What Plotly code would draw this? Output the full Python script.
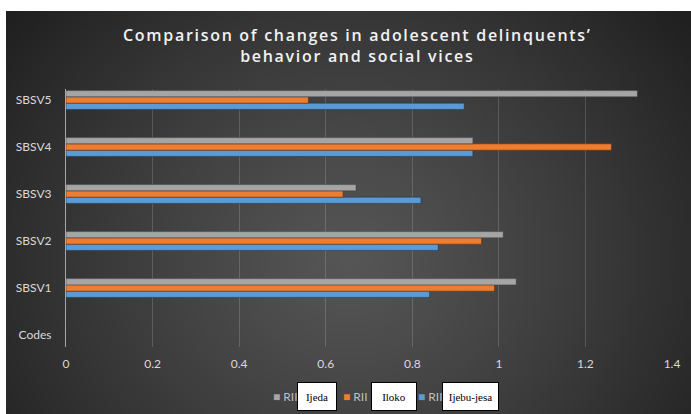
import base64
import struct
import zlib

import numpy as np
import plotly.graph_objects as go

# ---------------- data ----------------
categories = ["Codes", "SBSV1", "SBSV2", "SBSV3", "SBSV4", "SBSV5"]
ijebu_jesa = [None, 0.84, 0.86, 0.82, 0.94, 0.92]
iloko = [None, 0.99, 0.96, 0.64, 1.26, 0.56]
ijeda = [None, 1.04, 1.01, 0.67, 0.94, 1.32]
x_ticks = [0, 0.2, 0.4, 0.6, 0.8, 1, 1.2, 1.4]
legend_labels = ["Ijeda", "Iloko", "Ijebu-jesa"]
series_label = "RII"
title_lines = ["Comparison of changes in adolescent delinquents’", "behavior and social vices"]

# ---------------- geometry helpers ----------------
W, H = 691, 414
L, R, T, B = 66, 19, 89, 67
PW, PH = W - L - R, H - T - B


def px(xp):
    return (xp - L) / PW


def py(yp):
    return (H - B - yp) / PH


# ---------------- background gradient image ----------------
def gradient_png(w, h):
    xs = np.linspace(0, 1, w)[None, :]
    ys = np.linspace(0, 1, h)[:, None]
    d = np.sqrt(((xs - 0.5) / 0.62) ** 2 + ((ys - 0.62) / 0.95) ** 2)
    v = 86 - 52 * np.clip(d, 0, 1.2) ** 1.15
    v = np.clip(v, 32, 90).astype(np.uint8)
    raw = b"".join(b"\x00" + v[i].tobytes() for i in range(h))

    def chunk(tag, data):
        return (struct.pack(">I", len(data)) + tag + data
                + struct.pack(">I", zlib.crc32(tag + data) & 0xFFFFFFFF))

    png = (b"\x89PNG\r\n\x1a\n"
           + chunk(b"IHDR", struct.pack(">IIBBBBB", w, h, 8, 0, 0, 0, 0))
           + chunk(b"IDAT", zlib.compress(raw, 9))
           + chunk(b"IEND", b""))
    return "data:image/png;base64," + base64.b64encode(png).decode()


bg_src = gradient_png(172, 100)

colors = {"gray": "#a5a5a5", "orange": "#ed7d31", "blue": "#5b9bd5"}

fig = go.Figure()
fig.add_trace(go.Bar(y=categories, x=ijebu_jesa, orientation="h", name="Ijebu-jesa",
                     marker=dict(color=colors["blue"], line=dict(color="rgba(20,40,70,0.8)", width=0.6))))
fig.add_trace(go.Bar(y=categories, x=iloko, orientation="h", name="Iloko",
                     marker=dict(color=colors["orange"], line=dict(color="rgba(90,40,10,0.8)", width=0.6))))
fig.add_trace(go.Bar(y=categories, x=ijeda, orientation="h", name="Ijeda",
                     marker=dict(color=colors["gray"], line=dict(color="rgba(60,60,60,0.8)", width=0.6))))

tick_font = dict(family="Lato, Open Sans, sans-serif", size=12, color="#d9d9d9")

fig.update_layout(
    width=W, height=H,
    margin=dict(l=L, r=R, t=T, b=B),
    paper_bgcolor="white",
    plot_bgcolor="rgba(0,0,0,0)",
    barmode="group",
    bargap=0.6,
    bargroupgap=0,
    showlegend=False,
    xaxis=dict(range=[0, 1.4], tickvals=x_ticks, ticktext=[f"{t:g}" for t in x_ticks],
               showgrid=True, gridcolor="rgba(255,255,255,0.16)", gridwidth=1,
               zeroline=False, showline=False, tickfont=tick_font,
               ticklabelstandoff=8, fixedrange=True),
    yaxis=dict(categoryorder="array", categoryarray=categories,
               range=[-0.255, 5.234], showgrid=False, zeroline=False,
               showline=True, linecolor="#a6a6a6", linewidth=1.2,
               tickfont=tick_font, ticklabelstandoff=11, fixedrange=True),
    images=[dict(source=bg_src, xref="paper", yref="paper",
                 x=px(6), y=py(11), sizex=(W - 6) / PW, sizey=(H - 11) / PH,
                 xanchor="left", yanchor="top", sizing="stretch", layer="below")],
)

annotations = []
# title
title_html = "<br>".join(f"<span style='letter-spacing:1.7px'>{t}</span>" for t in title_lines)
annotations.append(dict(text=title_html, xref="paper", yref="paper",
                        x=px(357), y=py(46), xanchor="center", yanchor="middle",
                        showarrow=False, align="center",
                        font=dict(family="Open Sans, sans-serif", size=16, color="#f2f2f2", weight=600)))

# legend built from text annotations
legend_specs = [
    (colors["gray"], 271, 297, 337),
    (colors["orange"], 341, 371, 417),
    (colors["blue"], 416, 442, 499),
]
for (col, sx, bx0, bx1), lab in zip(legend_specs, legend_labels):
    annotations.append(dict(
        text=f"<span style='color:{col}'>■</span> {series_label}",
        xref="paper", yref="paper", x=px(sx), y=py(396), xanchor="left", yanchor="middle",
        showarrow=False, font=dict(family="Lato, Open Sans, sans-serif", size=12, color="#bfbfbf")))
    annotations.append(dict(
        text=lab, xref="paper", yref="paper", x=px((bx0 + bx1) / 2), y=py(396.5),
        xanchor="center", yanchor="middle", showarrow=False,
        width=bx1 - bx0 - 2, height=27, bgcolor="white", bordercolor="black",
        borderwidth=1, borderpad=0, align="center", valign="middle",
        font=dict(family="Liberation Serif, serif", size=11, color="black")))

fig.update_layout(annotations=annotations)

fig.write_html("out.html")
